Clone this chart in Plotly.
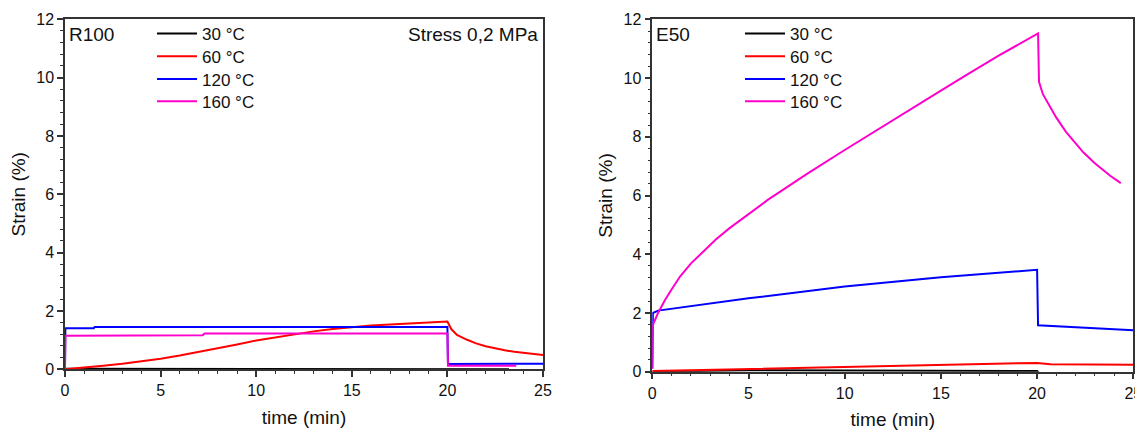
import plotly.graph_objects as go

# ---------------- data ----------------
series_names = ["30 °C", "60 °C", "120 °C", "160 °C"]
series_colors = ["#000000", "#ff0000", "#0000ff", "#ff00cc"]

# R100 panel
t30_L = [0, 5, 10, 15, 20, 20.05, 23.8]
s30_L = [0.02, 0.02, 0.02, 0.02, 0.02, 0.0, 0.0]
t60_L = [0, 1, 2, 3, 4, 5, 6, 7, 8, 9, 10, 11, 12, 13, 14, 15, 16, 17, 18, 19, 20,
         20.2, 20.5, 21, 21.5, 22, 22.5, 23, 23.5, 24, 24.5, 25]
s60_L = [0.0, 0.05, 0.12, 0.19, 0.27, 0.36, 0.47, 0.59, 0.71, 0.85, 0.99, 1.1, 1.21, 1.3,
         1.38, 1.45, 1.5, 1.54, 1.58, 1.61, 1.64,
         1.38, 1.18, 1.02, 0.89, 0.79, 0.71, 0.65, 0.6, 0.56, 0.52, 0.49]
t120_L = [0, 0.02, 1.5, 1.55, 20, 20.03, 25]
s120_L = [0.0, 1.41, 1.41, 1.45, 1.45, 0.18, 0.19]
t160_L = [0, 0.02, 7.2, 7.3, 20, 20.03, 23.6]
s160_L = [0.0, 1.15, 1.17, 1.23, 1.23, 0.12, 0.12]

# E50 panel
t30_R = [0, 2, 5, 10, 15, 20, 20.1, 25]
s30_R = [0.0, 0.03, 0.05, 0.04, 0.03, 0.02, -0.04, -0.05]
t60_R = [0, 5, 10, 15, 19.5, 20, 20.7, 25]
s60_R = [0.02, 0.09, 0.17, 0.25, 0.31, 0.3, 0.25, 0.24]
t120_R = [0, 0.03, 0.3, 5, 10, 15, 20, 20.05, 25]
s120_R = [0.1, 2.0, 2.08, 2.5, 2.9, 3.22, 3.47, 1.58, 1.41]
t160_R = [0, 0.02, 0.3, 0.66, 1.0, 1.45, 2.0, 2.5, 3.3, 4.0, 5, 6, 7.1, 8, 10, 11.2, 13, 15,
          16.4, 18, 20.05, 20.07, 20.1, 20.3, 20.67, 21.0, 21.5, 22.0, 22.4, 23.0, 23.3,
          23.8, 24.35]
s160_R = [0.1, 1.58, 2.0, 2.44, 2.8, 3.25, 3.68, 4.0, 4.5, 4.88, 5.38, 5.85, 6.33, 6.72, 7.55,
          8.04, 8.77, 9.57, 10.13, 10.76, 11.52, 10.3, 9.87, 9.45, 9.0, 8.65, 8.17, 7.77, 7.47,
          7.1, 6.93, 6.67, 6.42]

left_t = [t30_L, t60_L, t120_L, t160_L]
left_s = [s30_L, s60_L, s120_L, s160_L]
right_t = [t30_R, t60_R, t120_R, t160_R]
right_s = [s30_R, s60_R, s120_R, s160_R]

x_ticks = [0, 5, 10, 15, 20, 25]
y_ticks = [0, 2, 4, 6, 8, 10, 12]

FONT = "Liberation Sans, Arial, sans-serif"
TXT = "#111111"

# page body has an 8px margin, so the figure starts at (8, 8) in the window
OFF = 8
W, H = 1143 - OFF, 433 - OFF
def px(x):
    return (x - OFF) / W
def py(y):
    return 1 - (y - OFF) / H

fig = go.Figure()
legend_rows = [34, 56.7, 79.5, 101.7]
legend_layout = {}
k = 1
for panel, (ts, ss, xa_name, ya_name, lx) in enumerate([
        (left_t, left_s, "x", "y", 152), (right_t, right_s, "x2", "y2", 740)]):
    for i in range(4):
        lname = "legend" if k == 1 else f"legend{k}"
        fig.add_trace(go.Scatter(x=ts[i], y=ss[i], mode="lines", name=series_names[i],
                                 line=dict(color=series_colors[i], width=2), showlegend=True,
                                 xaxis=xa_name, yaxis=ya_name, legend=lname))
        legend_layout[lname] = dict(x=px(lx), y=py(legend_rows[i]), xanchor="left", yanchor="middle",
                                    bgcolor="rgba(0,0,0,0)", borderwidth=0, visible=True,
                                    font=dict(family=FONT, size=17, color=TXT), itemwidth=40)
        k += 1

axis_common = dict(
    showgrid=False, zeroline=False, showline=True, mirror=True, automargin=False,
    linecolor="#333333", linewidth=1.5,
    ticks="outside", ticklen=6, tickwidth=1.5, tickcolor="#333333",
    tickfont=dict(family=FONT, size=16, color=TXT),
    minor=dict(ticks="outside", ticklen=3, tickwidth=1, tickcolor="#333333"),
)

xa = dict(axis_common, range=[0, 25], tickvals=x_ticks, minor=dict(axis_common["minor"], dtick=1),
          title=dict(text="time (min)", font=dict(family=FONT, size=19, color=TXT), standoff=12))
ya = dict(axis_common, range=[0, 12], tickvals=y_ticks, minor=dict(axis_common["minor"], dtick=0.4),
          title=dict(text="Strain (%)", font=dict(family=FONT, size=19, color=TXT), standoff=6))

fig.update_layout(
    width=W, height=H,
    margin=dict(l=0, r=0, t=0, b=0),
    showlegend=True,
    paper_bgcolor="white", plot_bgcolor="white",
    font=dict(family=FONT, size=16, color=TXT),
    xaxis=dict(xa, domain=[px(65), px(543)], anchor="y"),
    yaxis=dict(ya, domain=[py(369.3), py(19.3)], anchor="x"),
    xaxis2=dict(xa, domain=[px(652.3), px(1133.3)], anchor="y2"),
    yaxis2=dict(ya, domain=[py(371.7), py(19.3)], anchor="x2"),
    annotations=[
        dict(text="R100", x=0.0, y=1.0, xref="x domain", yref="y domain", xanchor="left", yanchor="top",
             xshift=2, yshift=-3, showarrow=False, font=dict(family=FONT, size=19, color=TXT)),
        dict(text="Stress 0,2 MPa", x=1.0, y=1.0, xref="x domain", yref="y domain", xanchor="right",
             yanchor="top", xshift=-3, yshift=-3, showarrow=False,
             font=dict(family=FONT, size=19, color=TXT)),
        dict(text="E50", x=0.0, y=1.0, xref="x2 domain", yref="y2 domain", xanchor="left", yanchor="top",
             xshift=2, yshift=-3, showarrow=False, font=dict(family=FONT, size=19, color=TXT)),
    ],
)
fig.update_layout(**legend_layout)

fig.write_html("out.html")
